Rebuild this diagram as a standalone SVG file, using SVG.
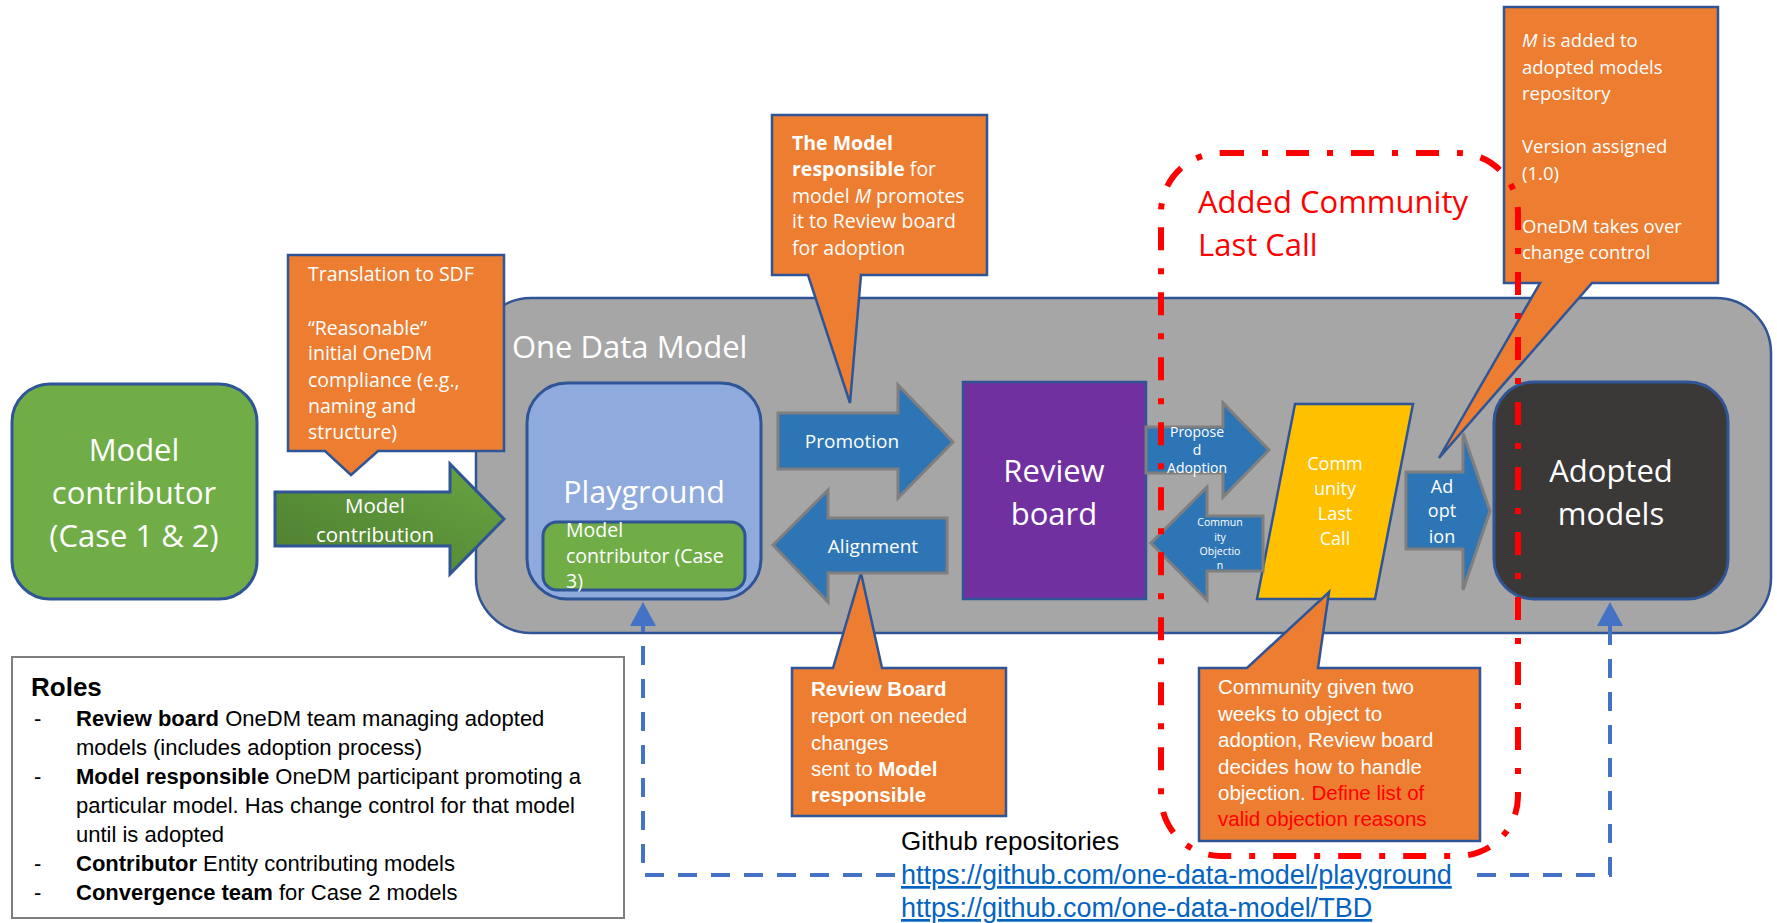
<svg xmlns="http://www.w3.org/2000/svg" width="1777" height="923" viewBox="0 0 1777 923">
<style>
.os{font-family:"Open Sans","Liberation Sans",sans-serif;}
.ls{font-family:"Liberation Sans",Arial,sans-serif;}
.w{fill:#ffffff;}
.k{fill:#000000;}
.c{text-anchor:middle;}
.b{font-weight:bold;}
.i{font-style:italic;}
.red{fill:#FF0000;}
.callout{fill:#ED7D31;stroke:#2F5597;stroke-width:2.5;}
.barrow{fill:#2E75B6;stroke:#7F7F7F;stroke-width:3;}
.box{stroke:#2F5597;stroke-width:3;}
.dash{fill:none;stroke:#4472C4;stroke-width:4;stroke-dasharray:19 14;}
.link{fill:#0563C1;text-decoration:underline;}
</style>
<defs>
<linearGradient id="gGreen" x1="0" y1="1" x2="1" y2="0">
<stop offset="0" stop-color="#4E7D2F"/>
<stop offset="1" stop-color="#67A542"/>
</linearGradient>
<marker id="upArrow" viewBox="0 0 24 26" markerWidth="24" markerHeight="26" refX="0" refY="13" orient="auto" markerUnits="userSpaceOnUse">
<path d="M0,0 L24,13 L0,26 Z" fill="#4472C4"/>
</marker>
</defs>

<g id="one-data-model">
<rect x="476" y="298" width="1295" height="335" rx="55" fill="#A6A6A6" stroke="#2F5597" stroke-width="2.5"/>
<text class="os w" x="512" y="358" font-size="31">One Data Model</text>
</g>

<g id="model-contributor">
<rect class="box" x="12" y="384" width="245" height="215" rx="38" fill="#70AD47"/>
<text class="os w c" font-size="31"><tspan x="134" y="461">Model</tspan><tspan x="134" y="504">contributor</tspan><tspan x="134" y="547">(Case 1 &amp; 2)</tspan></text>
</g>

<g id="translation-callout">
<path class="callout" d="M288,255 H504 V451 H378 L351,475 L325,451 H288 Z"/>
<text class="os w" font-size="19.5"><tspan x="308" y="281">Translation to SDF</tspan><tspan x="308" y="335">“Reasonable”</tspan><tspan x="308" y="360">initial OneDM</tspan><tspan x="308" y="387">compliance (e.g.,</tspan><tspan x="308" y="413">naming and</tspan><tspan x="308" y="439">structure)</tspan></text>
</g>

<g id="playground">
<rect class="box" x="527" y="383" width="234" height="216" rx="40" fill="#8FAADC"/>
<text class="os w c" x="644" y="503" font-size="30.5">Playground</text>
</g>

<g id="model-contributor-case3">
<rect class="box" x="543" y="522" width="202" height="68" rx="14" fill="#70AD47"/>
<text class="os w" font-size="19.5"><tspan x="566" y="537">Model</tspan><tspan x="566" y="563">contributor (Case</tspan><tspan x="566" y="588">3)</tspan></text>
</g>

<g id="model-responsible-callout">
<path class="callout" d="M772,115 H987 V275 H861 L850,403 L808,275 H772 Z"/>
<text class="os w" font-size="19.5"><tspan x="792" y="150" class="b">The Model</tspan><tspan x="792" y="176"><tspan class="b">responsible</tspan> for</tspan><tspan x="792" y="203">model <tspan class="i">M</tspan> promotes</tspan><tspan x="792" y="228">it to Review board</tspan><tspan x="792" y="255">for adoption</tspan></text>
</g>

<g id="review-board">
<rect x="963" y="382" width="183" height="217" fill="#7030A0" stroke="#2F5597" stroke-width="2.5"/>
<text class="os w c" font-size="31"><tspan x="1054" y="482">Review</tspan><tspan x="1054" y="525">board</tspan></text>
</g>

<g id="community-last-call">
<path d="M1295,404 L1413,404 L1375,599 L1257,599 Z" fill="#FFC000" stroke="#2F5597" stroke-width="2.5"/>
<text class="os w c" font-size="18"><tspan x="1335" y="470">Comm</tspan><tspan x="1335" y="495">unity</tspan><tspan x="1335" y="520">Last</tspan><tspan x="1335" y="545">Call</tspan></text>
</g>

<g id="adopted-models">
<rect class="box" x="1494" y="382" width="234" height="217" rx="40" fill="#3B3838"/>
<text class="os w c" font-size="31"><tspan x="1611" y="482">Adopted</tspan><tspan x="1611" y="525">models</tspan></text>
</g>

<g id="review-board-callout">
<path class="callout" d="M792,668 H833 L861,573 L882,668 H1006 V816 H792 Z"/>
<text class="ls w" font-size="20.5"><tspan x="811" y="696" class="b">Review Board</tspan><tspan x="811" y="723">report on needed</tspan><tspan x="811" y="750">changes</tspan><tspan x="811" y="776">sent to <tspan class="b">Model</tspan></tspan><tspan x="811" y="802" class="b">responsible</tspan></text>
</g>

<g id="community-callout">
<path class="callout" d="M1199,668 H1247 L1329,592 L1318,668 H1480 V841 H1199 Z"/>
<text class="ls w" font-size="20.5"><tspan x="1218" y="694">Community given two</tspan><tspan x="1218" y="721">weeks to object to</tspan><tspan x="1218" y="747">adoption, Review board</tspan><tspan x="1218" y="774">decides how to handle</tspan><tspan x="1218" y="800">objection. <tspan class="red">Define list of</tspan></tspan><tspan x="1218" y="826" class="red">valid objection reasons</tspan></text>
</g>

<g id="adopted-callout">
<path class="callout" d="M1504,7 H1718 V283 H1592 L1439,458 L1540,283 H1504 Z"/>
<text class="os w" font-size="18.5"><tspan x="1522" y="47"><tspan class="i">M</tspan> is added to</tspan><tspan x="1522" y="74">adopted models</tspan><tspan x="1522" y="100">repository</tspan><tspan x="1522" y="153">Version assigned</tspan><tspan x="1522" y="180">(1.0)</tspan><tspan x="1522" y="233">OneDM takes over</tspan><tspan x="1522" y="259">change control</tspan></text>
</g>

<g id="roles">
<rect x="12" y="657" width="612" height="261" fill="#ffffff" stroke="#7F7F7F" stroke-width="2"/>
<text class="ls k b" x="31" y="696" font-size="26">Roles</text>
<text class="ls k" font-size="22">
<tspan x="34" y="726">-</tspan><tspan x="76" y="726"><tspan class="b">Review board</tspan> OneDM team managing adopted</tspan>
<tspan x="76" y="755">models (includes adoption process)</tspan>
<tspan x="34" y="784">-</tspan><tspan x="76" y="784"><tspan class="b">Model responsible</tspan> OneDM participant promoting a</tspan>
<tspan x="76" y="813">particular model. Has change control for that model</tspan>
<tspan x="76" y="842">until is adopted</tspan>
<tspan x="34" y="871">-</tspan><tspan x="76" y="871"><tspan class="b">Contributor</tspan> Entity contributing models</tspan>
<tspan x="34" y="900">-</tspan><tspan x="76" y="900"><tspan class="b">Convergence team</tspan> for Case 2 models</tspan>
</text>
</g>

<g id="github">
<text class="ls k" x="901" y="850" font-size="26">Github repositories</text>
<text class="ls link" x="901" y="884" font-size="27">https://github.com/one-data-model/playground</text>
<text class="ls link" x="901" y="917" font-size="27">https://github.com/one-data-model/TBD</text>
</g>

<g id="connectors">
<path id="model-contribution" d="M275,492 H450 V464 L504,519 L450,574 V546 H275 Z" fill="url(#gGreen)" stroke="#2F5597" stroke-width="3"/>
<text class="os w c" font-size="20.5"><tspan x="375" y="513">Model</tspan><tspan x="375" y="542">contribution</tspan></text>

<path id="promotion" class="barrow" d="M778,413 H898 V385 L953,442 L898,498 V469 H778 Z"/>
<text class="os w c" x="852" y="448" font-size="19">Promotion</text>

<path id="alignment" class="barrow" d="M773,545 L828,490 V518 H947 V573 H828 V602 Z"/>
<text class="os w c" x="873" y="553" font-size="19">Alignment</text>

<path id="proposed-adoption" class="barrow" d="M1146,427 H1223 V403 L1269,450 L1223,497 V473 H1146 Z"/>
<text class="os w c" font-size="14"><tspan x="1197" y="437">Propose</tspan><tspan x="1197" y="455">d</tspan><tspan x="1197" y="473">Adoption</tspan></text>

<path id="community-objection" class="barrow" d="M1151,543 L1207,487 V516 H1263 V571 H1207 V600 Z"/>
<text class="os w c" font-size="10.5"><tspan x="1220" y="526">Commun</tspan><tspan x="1220" y="541">ity</tspan><tspan x="1220" y="555">Objectio</tspan><tspan x="1220" y="569">n</tspan></text>

<path id="adoption" class="barrow" d="M1406,472 H1463 V433 L1490,511 L1463,590 V549 H1406 Z"/>
<text class="os w c" font-size="18"><tspan x="1442" y="493">Ad</tspan><tspan x="1442" y="517">opt</tspan><tspan x="1442" y="543">ion</tspan></text>

<path id="repo-to-playground" class="dash" d="M895,875 H643 V626" marker-end="url(#upArrow)"/>
<path id="repo-to-adopted" class="dash" d="M1477,875 H1610 V626" marker-end="url(#upArrow)"/>
</g>

<g id="added-community-last-call">
<rect x="1161" y="153" width="357" height="703" rx="60" fill="none" stroke="#FF0000" stroke-width="6" stroke-dasharray="23 18 6 18"/>
<text class="os red" font-size="31"><tspan x="1198" y="213">Added Community</tspan><tspan x="1198" y="256">Last Call</tspan></text>
</g>
</svg>
